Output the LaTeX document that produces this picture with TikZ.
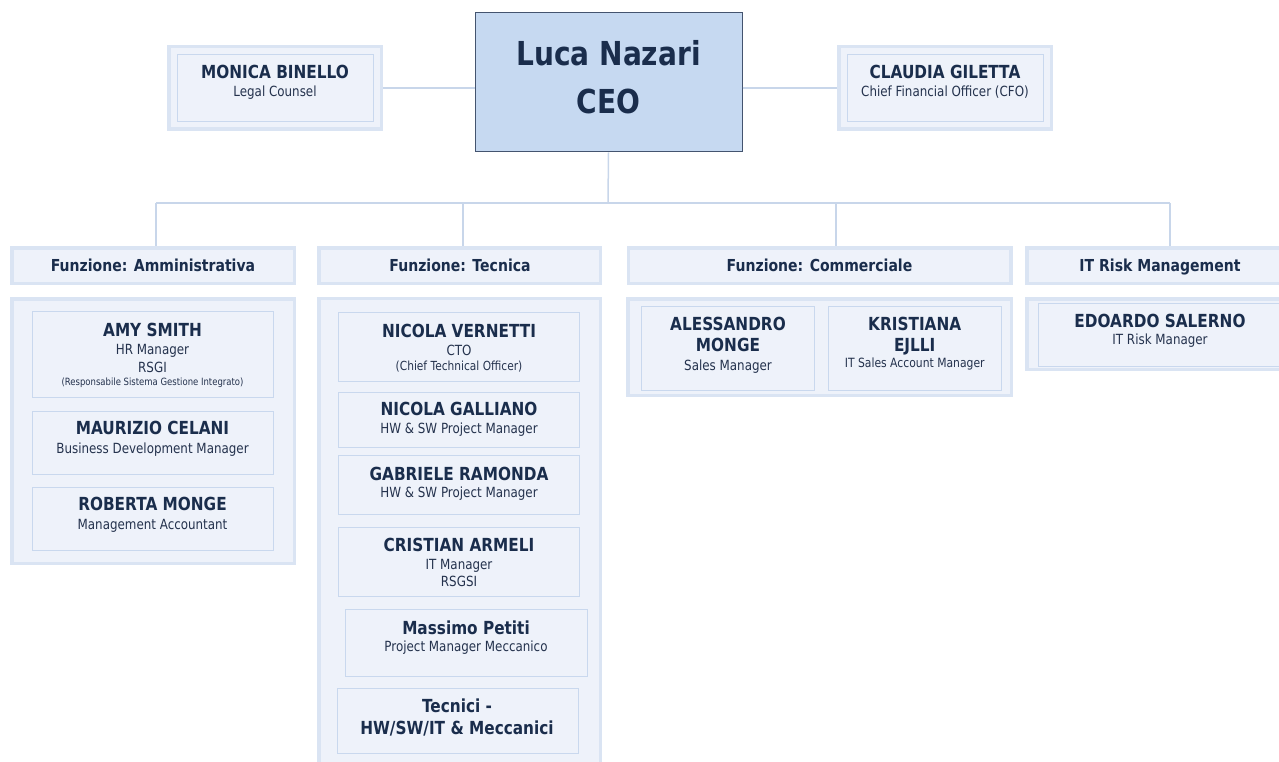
\documentclass[tikz,border=0pt]{standalone}
\usepackage{fontspec}
\setmainfont{DejaVu Sans}[FakeStretch=0.85]
\definecolor{navy}{HTML}{1A2D4C}
\definecolor{tnavy}{HTML}{24324D}
\definecolor{bfill}{HTML}{EEF2FA}
\definecolor{iedge}{HTML}{C9D8EE}
\definecolor{oedge}{HTML}{DAE4F3}
\definecolor{ceofill}{HTML}{C6D9F1}
\definecolor{ceoedge}{HTML}{44546F}
\definecolor{conn}{HTML}{C8D6EA}
\tikzset{
  sized/.style n args={2}{minimum width=#1, minimum height=#2},
  outerbox/.style={draw=oedge, line width=3.5pt, fill=bfill, inner sep=0pt},
  innerbox/.style={draw=iedge, line width=1pt, fill=bfill, inner sep=0pt},
  ceobox/.style={draw=ceoedge, line width=1pt, fill=ceofill, inner sep=0pt},
  nm/.style={font=\fontsize{18}{20}\selectfont\bfseries, text=navy, anchor=base, inner sep=0pt},
  hd/.style={font=\fontsize{16.5}{18}\selectfont\bfseries, text=navy, anchor=base, inner sep=0pt},
  tt/.style={font=\fontsize{14}{16}\selectfont, text=tnavy, anchor=base, inner sep=0pt},
  big/.style={font=\fontsize{33}{36}\selectfont\bfseries, text=navy, anchor=base, inner sep=0pt},
  conline/.style={draw=conn, line width=1.5pt}
}
\begin{document}
\begin{tikzpicture}[x=1pt,y=-1pt]
\useasboundingbox (0,0) rectangle (1279,762);
% top level boxes
\node[ceobox, sized={267}{139}] (ceo) at (608.5,82.5) {};
\node[outerbox, sized={212.5}{82.5}] (mon) at (275,88) {};
\node[innerbox, sized={196}{67}] (moni) at (275,88.5) {};
\node[outerbox, sized={212.5}{82.5}] (cla) at (945,88) {};
\node[innerbox, sized={196}{67}] (clai) at (945,88.5) {};
% connectors
\draw[conline] (mon.east) -- (ceo.west |- mon.east);
\draw[conline] (ceo.east |- cla.west) -- (cla.west);
\coordinate (bus) at (608,203);
\coordinate (dA) at (156,246);
\coordinate (dT) at (463,246);
\coordinate (dC) at (836,246);
\coordinate (dR) at (1170,246);
\draw[conline] (ceo.south) -- (bus);
\draw[conline] (dA |- bus) -- (dR |- bus);
\draw[conline] (dA |- bus) -- (dA);
\draw[conline] (dT |- bus) -- (dT);
\draw[conline] (dC |- bus) -- (dC);
\draw[conline] (dR |- bus) -- (dR);
% headers
\node[outerbox, sized={282.5}{35.5}] (hA) at (153,265.5) {};
\node[outerbox, sized={281.5}{35.5}] (hT) at (459.5,265.5) {};
\node[outerbox, sized={382.5}{35.5}] (hC) at (819.5,265.5) {};
\node[outerbox, sized={266.5}{35.5}] (hR) at (1160,265.5) {};
% groups
\node[outerbox, sized={282.5}{264.5}] (gA) at (153,431) {};
\node[outerbox, sized={281.5}{500}] (gT) at (459.5,548.5) {};
\node[outerbox, sized={383.5}{96.5}] (gC) at (819.5,347) {};
\node[outerbox, sized={266.5}{70.5}] (gR) at (1160,334) {};
% person boxes
\node[innerbox, sized={241}{86}] (amy) at (152.5,354) {};
\node[innerbox, sized={241}{63}] (mau) at (152.5,442.5) {};
\node[innerbox, sized={241}{63}] (rob) at (152.5,518.5) {};
\node[innerbox, sized={241}{69}] (nv) at (458.5,346.5) {};
\node[innerbox, sized={241}{55}] (gal) at (458.5,419.5) {};
\node[innerbox, sized={241}{59}] (ram) at (458.5,484.5) {};
\node[innerbox, sized={241}{69}] (arm) at (458.5,561.5) {};
\node[innerbox, sized={242}{67}] (mas) at (466,642.5) {};
\node[innerbox, sized={241}{65}] (tec) at (457.5,720.5) {};
\node[innerbox, sized={173}{84}] (ale) at (727.5,348) {};
\node[innerbox, sized={173}{84}] (kri) at (914.5,348) {};
\node[innerbox, sized={257}{63}] (edo) at (1166.5,334.5) {};
% texts top
\node[big] (ceo1) at (608.5,66) {Luca Nazari};
\node[big] (ceo2) at (608.5,113.5) {CEO};
\node[nm] (mon1) at (275,79) {MONICA BINELLO};
\node[tt] (mon2) at (275,96.5) {Legal Counsel};
\node[nm] (cla1) at (945,78.5) {CLAUDIA GILETTA};
\node[tt] (cla2) at (945,96.5) {Chief Financial Officer (CFO)};
% headers text
\node[hd] (hA1) at (153,271) {Funzione: Amministrativa};
\node[hd] (hT1) at (460,271) {Funzione: Tecnica};
\node[hd] (hC1) at (819.5,271) {Funzione: Commerciale};
\node[hd] (hR1) at (1160,271.5) {IT Risk Management};
% Amministrativa
\node[nm] (amy1) at (152.5,336) {AMY SMITH};
\node[tt] (amy2) at (152.5,354) {HR Manager};
\node[tt] (amy3) at (152.5,372.3) {RSGI};
\node[tt, font=\fontsize{10}{12}\selectfont] (amy4) at (152.5,385.3) {(Responsabile Sistema Gestione Integrato)};
\node[nm] (mau1) at (152.5,434.3) {MAURIZIO CELANI};
\node[tt] (mau2) at (152.5,453.3) {Business Development Manager};
\node[nm] (rob1) at (152.5,510) {ROBERTA MONGE};
\node[tt] (rob2) at (152.5,529.3) {Management Accountant};
% Tecnica
\node[nm] (nv1) at (459,337.3) {NICOLA VERNETTI};
\node[tt] (nv2) at (459,355) {CTO};
\node[tt, font=\fontsize{12.5}{14}\selectfont] (nv3) at (459,370.7) {(Chief Technical Officer)};
\node[nm] (gal1) at (459,415.7) {NICOLA GALLIANO};
\node[tt] (gal2) at (459,433.3) {HW \& SW Project Manager};
\node[nm] (ram1) at (459,480) {GABRIELE RAMONDA};
\node[tt] (ram2) at (459,497.7) {HW \& SW Project Manager};
\node[nm] (arm1) at (459,551.7) {CRISTIAN ARMELI};
\node[tt] (arm2) at (459,569) {IT Manager};
\node[tt] (arm3) at (459,586.7) {RSGSI};
\node[nm] (mas1) at (466,634) {Massimo Petiti};
\node[tt] (mas2) at (466,651.7) {Project Manager Meccanico};
\node[nm] (tec1) at (457,712.7) {Tecnici -};
\node[nm] (tec2) at (457,734) {HW/SW/IT \& Meccanici};
% Commerciale
\node[nm] (ale1) at (728,330.7) {ALESSANDRO};
\node[nm] (ale2) at (728,351) {MONGE};
\node[tt] (ale3) at (728,370) {Sales Manager};
\node[nm] (kri1) at (914.7,330.7) {KRISTIANA};
\node[nm] (kri2) at (914.7,351) {EJLLI};
\node[tt, font=\fontsize{12.7}{14}\selectfont] (kri3) at (914.7,367.7) {IT Sales Account Manager};
% IT Risk
\node[nm] (edo1) at (1160,327.7) {EDOARDO SALERNO};
\node[tt] (edo2) at (1160,344) {IT Risk Manager};
\end{tikzpicture}
\end{document}
